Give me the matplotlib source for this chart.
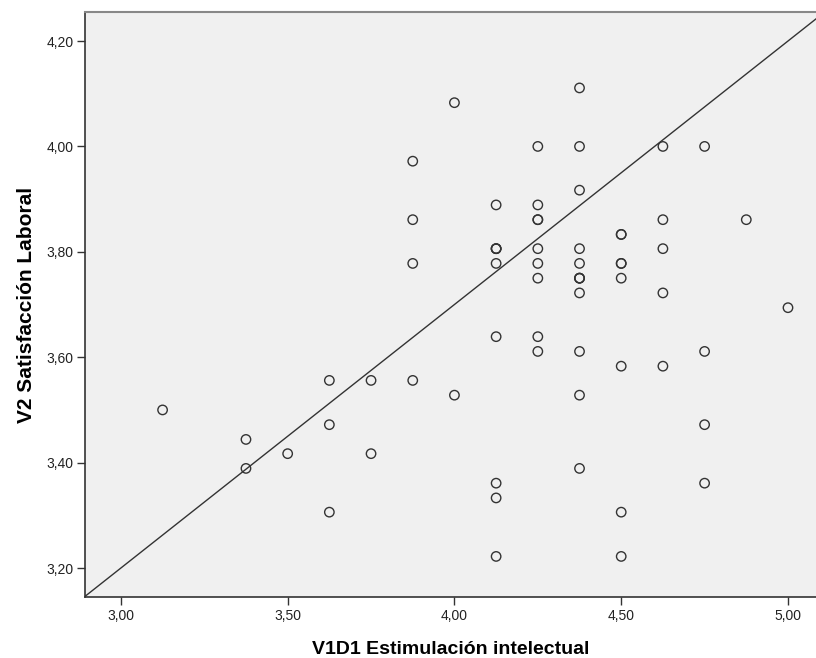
import matplotlib
matplotlib.use("Agg")
import matplotlib.pyplot as plt
import numpy as np
from matplotlib.ticker import FuncFormatter

plt.rcParams["font.family"] = ["Liberation Sans", "DejaVu Sans"]

# V1D1 (x) and V2 (y) values
estimulacion = [
    3.125, 3.375, 3.375, 3.5, 3.625, 3.625, 3.625, 3.75, 3.75,
    3.875, 3.875, 3.875, 3.875,
    4.0, 4.0,
    4.125, 4.125, 4.125, 4.125, 4.125, 4.125, 4.125, 4.125, 4.125,
    4.25, 4.25, 4.25, 4.25, 4.25, 4.25, 4.25, 4.25, 4.25,
    4.375, 4.375, 4.375, 4.375, 4.375, 4.375, 4.375, 4.375, 4.375, 4.375, 4.375, 4.375,
    4.5, 4.5, 4.5, 4.5, 4.5, 4.5, 4.5, 4.5,
    4.625, 4.625, 4.625, 4.625, 4.625,
    4.75, 4.75, 4.75, 4.75,
    4.875, 5.0,
]
satisfaccion = [
    3.5, 3.444, 3.389, 3.417, 3.556, 3.472, 3.306, 3.556, 3.417,
    3.972, 3.861, 3.778, 3.556,
    4.083, 3.528,
    3.889, 3.806, 3.806, 3.778, 3.639, 3.361, 3.333, 3.222, 3.806,
    4.0, 3.889, 3.861, 3.861, 3.806, 3.778, 3.75, 3.639, 3.611,
    4.111, 4.0, 3.917, 3.806, 3.778, 3.75, 3.75, 3.722, 3.611, 3.528, 3.389, 3.75,
    3.833, 3.833, 3.778, 3.778, 3.75, 3.583, 3.306, 3.222,
    4.0, 3.861, 3.806, 3.722, 3.583,
    4.0, 3.611, 3.472, 3.361,
    3.861, 3.694,
]
# reference line drawn by SPSS
line_slope = 0.5
line_intercept = 1.70

x_ticks = [3.0, 3.5, 4.0, 4.5, 5.0]
y_ticks = [3.2, 3.4, 3.6, 3.8, 4.0, 4.2]

fig = plt.figure(figsize=(8.16, 6.58), dpi=100)
ax = fig.add_axes([0.104, 0.0927, 0.896, 0.889])
ax.set_facecolor("#f0f0f0")

xmin, xmax = 2.892, 5.084
ymin, ymax = 3.145, 4.255

xs = np.array([xmin, xmax])
ax.plot(xs, line_intercept + line_slope * xs, color="#333333", lw=1.0, zorder=2)
ax.scatter(estimulacion, satisfaccion, s=46, facecolors="none",
           edgecolors="#333333", linewidths=1.0, zorder=3)

ax.set_xlim(xmin, xmax)
ax.set_ylim(ymin, ymax)
ax.set_xticks(x_ticks)
ax.set_yticks(y_ticks)
comma = FuncFormatter(lambda v, _: f"{v:.2f}".replace(".", ","))
ax.xaxis.set_major_formatter(comma)
ax.yaxis.set_major_formatter(comma)
ax.tick_params(direction="out", length=5.8, width=1, color="#333333",
               labelsize=10, labelcolor="#222222", pad=2.5)

for side in ["left", "bottom"]:
    ax.spines[side].set_color("#333333")
    ax.spines[side].set_linewidth(1.2)
ax.spines["top"].set_color("#888888")
ax.spines["top"].set_linewidth(1.5)
ax.spines["right"].set_visible(False)

ax.set_xlabel("V1D1 Estimulación intelectual", fontsize=14, fontweight="bold",
              labelpad=13)
ax.set_ylabel("V2 Satisfacción Laboral", fontsize=15, fontweight="bold",
              labelpad=7)

fig.savefig("out.png", dpi=100)
